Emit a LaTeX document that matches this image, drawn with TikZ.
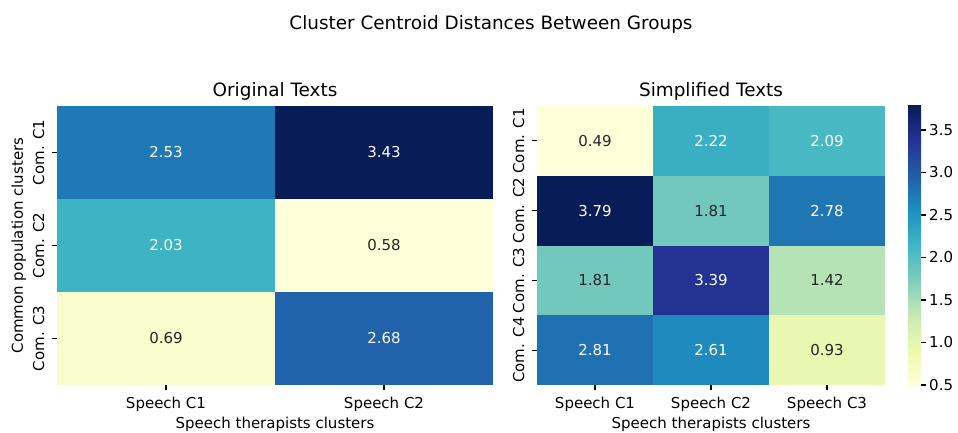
\documentclass[tikz,border=0pt]{standalone}
\usepackage{fontspec}
\setmainfont{DejaVu Sans}
\definecolor{cA}{HTML}{FFFFD9}
\definecolor{cB}{HTML}{EDF8B1}
\definecolor{cC}{HTML}{C7E9B4}
\definecolor{cD}{HTML}{7FCDBB}
\definecolor{cE}{HTML}{41B6C4}
\definecolor{cF}{HTML}{1D91C0}
\definecolor{cG}{HTML}{225EA8}
\definecolor{cH}{HTML}{253494}
\definecolor{cI}{HTML}{081D58}
\definecolor{annd}{HTML}{262626}
\begin{document}
\begin{tikzpicture}[x=1pt,y=-1pt,
  lbl/.style={font=\fontsize{15}{18}\selectfont, inner sep=0pt},
  ttl/.style={font=\fontsize{18.4}{21}\selectfont, inner sep=0pt, anchor=base},
  ann/.style={font=\fontsize{15}{18}\selectfont, inner sep=0pt, anchor=center},
  annw/.style={ann, text=white},
  annk/.style={ann, text=annd},
  tickm/.style={line width=1.1pt, black},
  ytl/.style={lbl, rotate=90, anchor=base},
  xtl/.style={lbl, anchor=base}]
\useasboundingbox (0,0) rectangle (958,433);
\fill[white] (0,0) rectangle (958,433);

% titles
\node[ttl] (sup) at (491,30) {Cluster Centroid Distances Between Groups};
\node[ttl] (tl) at (275,97) {Original Texts};
\node[ttl] (tr) at (711,97) {Simplified Texts};

% ---------- left heatmap ----------
\fill[fill={rgb,255:red,31;green,121;blue,181}] (57,106) rectangle (275,199);
\fill[cI] (275,106) rectangle (493,199);
\fill[fill={rgb,255:red,62;green,179;blue,196}] (57,199) rectangle (275,292);
\fill[cA] (275,199) rectangle (493,292);
\fill[fill={rgb,255:red,249;green,253;blue,205}] (57,292) rectangle (275,385);
\fill[fill={rgb,255:red,33;green,99;blue,170}] (275,292) rectangle (493,385);
\node[annw] (l11) at (166,152.5) {2.53};
\node[annw] (l12) at (384,152.5) {3.43};
\node[annw] (l21) at (166,245.5) {2.03};
\node[annk] (l22) at (384,245.5) {0.58};
\node[annk] (l31) at (166,338.5) {0.69};
\node[annw] (l32) at (384,338.5) {2.68};

% left ticks
\foreach \x in {166,384} \draw[tickm] (\x,385) -- (\x,390);
\foreach \y in {152.5,245.5,338.5} \draw[tickm] (57,\y) -- (52,\y);
\node[xtl] (lx1) at (166,408) {Speech C1};
\node[xtl] (lx2) at (384,408) {Speech C2};
\node[xtl] (lxl) at (275,428) {Speech therapists clusters};
\node[ytl] (ly1) at (44,152.5) {Com. C1};
\node[ytl] (ly2) at (44,245.5) {Com. C2};
\node[ytl] (ly3) at (44,338.5) {Com. C3};
\node[ytl] (lyl) at (23,245.5) {Common population clusters};

% ---------- right heatmap ----------
\fill[cA] (537,106) rectangle (653,175.75);
\fill[fill={rgb,255:red,58;green,175;blue,195}] (653,106) rectangle (769,175.75);
\fill[fill={rgb,255:red,72;green,185;blue,195}] (769,106) rectangle (885,175.75);
\fill[cI] (537,175.75) rectangle (653,245.5);
\fill[fill={rgb,255:red,115;green,200;blue,189}] (653,175.75) rectangle (769,245.5);
\fill[fill={rgb,255:red,32;green,117;blue,179}] (769,175.75) rectangle (885,245.5);
\fill[fill={rgb,255:red,115;green,200;blue,189}] (537,245.5) rectangle (653,315.25);
\fill[fill={rgb,255:red,36;green,51;blue,147}] (653,245.5) rectangle (769,315.25);
\fill[fill={rgb,255:red,182;green,227;blue,182}] (769,245.5) rectangle (885,315.25);
\fill[fill={rgb,255:red,32;green,113;blue,177}] (537,315.25) rectangle (653,385);
\fill[fill={rgb,255:red,30;green,138;blue,189}] (653,315.25) rectangle (769,385);
\fill[fill={rgb,255:red,234;green,247;blue,177}] (769,315.25) rectangle (885,385);
\node[annk] (r11) at (595,140.9) {0.49};
\node[annw] (r12) at (711,140.9) {2.22};
\node[annw] (r13) at (827,140.9) {2.09};
\node[annw] (r21) at (595,210.6) {3.79};
\node[annk] (r22) at (711,210.6) {1.81};
\node[annw] (r23) at (827,210.6) {2.78};
\node[annk] (r31) at (595,280.4) {1.81};
\node[annw] (r32) at (711,280.4) {3.39};
\node[annk] (r33) at (827,280.4) {1.42};
\node[annw] (r41) at (595,350.1) {2.81};
\node[annw] (r42) at (711,350.1) {2.61};
\node[annk] (r43) at (827,350.1) {0.93};

\foreach \x in {595,711,827} \draw[tickm] (\x,385) -- (\x,390);
\foreach \y in {140.9,210.6,280.4,350.1} \draw[tickm] (537,\y) -- (532,\y);
\node[xtl] (rx1) at (595,408) {Speech C1};
\node[xtl] (rx2) at (711,408) {Speech C2};
\node[xtl] (rx3) at (827,408) {Speech C3};
\node[xtl] (rxl) at (711,428) {Speech therapists clusters};
\node[ytl] (ry1) at (524,140.9) {Com. C1};
\node[ytl] (ry2) at (524,210.6) {Com. C2};
\node[ytl] (ry3) at (524,280.4) {Com. C3};
\node[ytl] (ry4) at (524,350.1) {Com. C4};

% ---------- colorbar ----------
\shade[bottom color=cA, top color=cB] (908,350.125) rectangle (921,385);
\shade[bottom color=cB, top color=cC] (908,315.25) rectangle (921,350.125);
\shade[bottom color=cC, top color=cD] (908,280.375) rectangle (921,315.25);
\shade[bottom color=cD, top color=cE] (908,245.5) rectangle (921,280.375);
\shade[bottom color=cE, top color=cF] (908,210.625) rectangle (921,245.5);
\shade[bottom color=cF, top color=cG] (908,175.75) rectangle (921,210.625);
\shade[bottom color=cG, top color=cH] (908,140.875) rectangle (921,175.75);
\shade[bottom color=cH, top color=cI] (908,106) rectangle (921,140.875);
\foreach \v/\t in {0.5/0.5,1.0/1.0,1.5/1.5,2.0/2.0,2.5/2.5,3.0/3.0,3.5/3.5}{
  \draw[tickm] (921,{385-(\v-0.5)*85}) -- (926,{385-(\v-0.5)*85});
  \node[lbl, anchor=west] at (929,{385-(\v-0.5)*85}) {\t};
}
\end{tikzpicture}
\end{document}
